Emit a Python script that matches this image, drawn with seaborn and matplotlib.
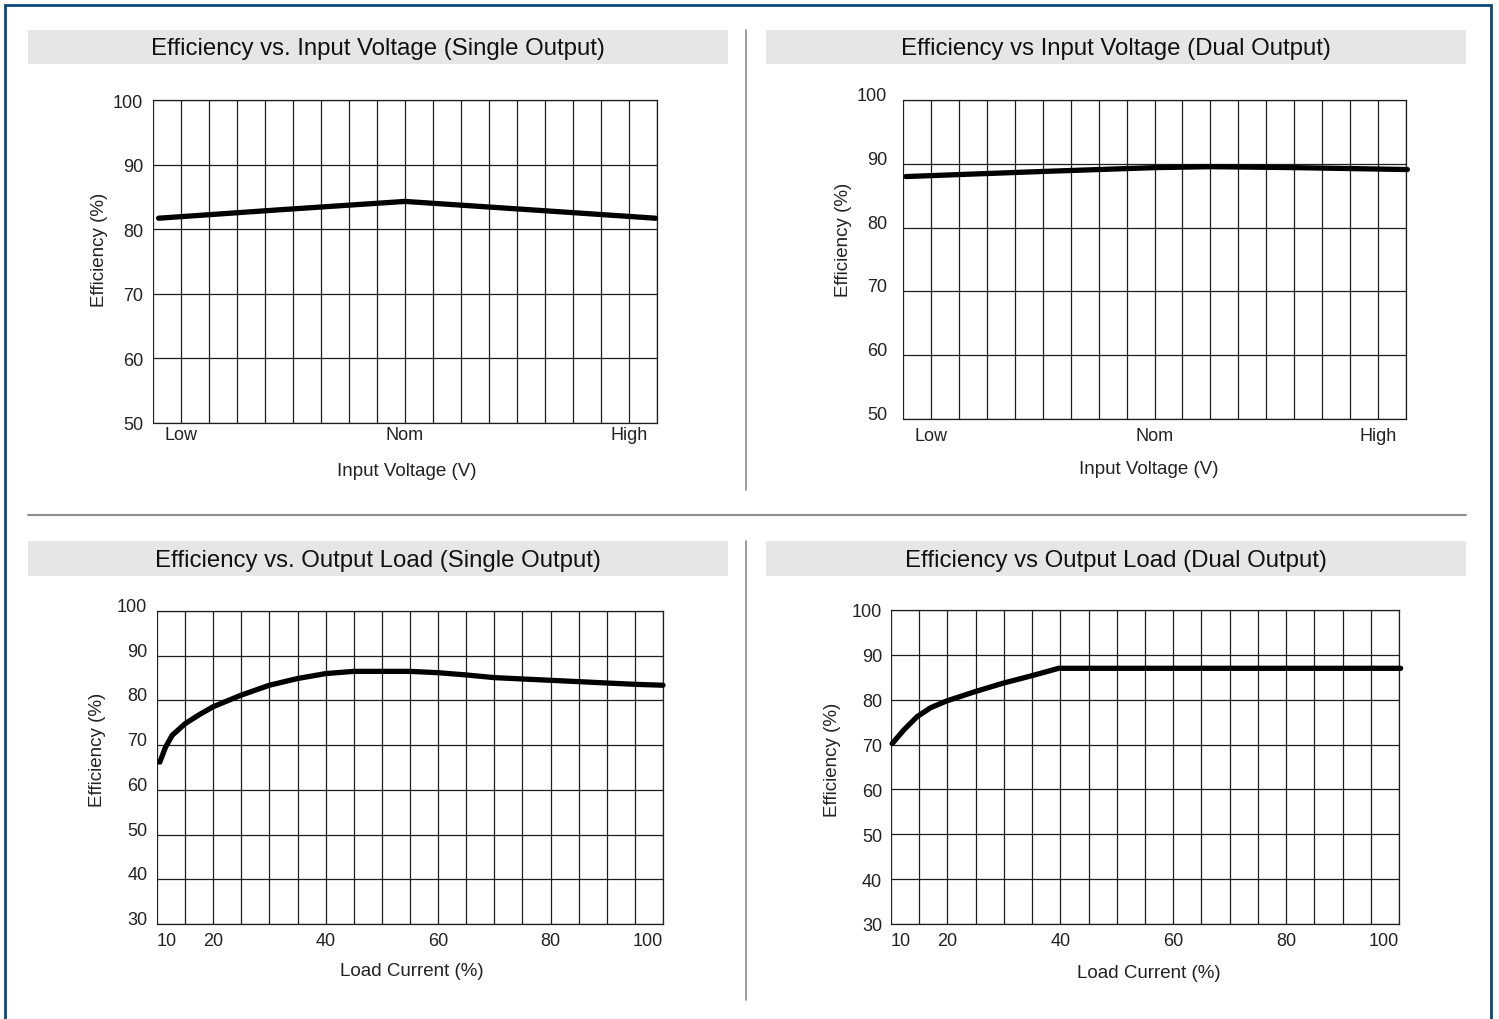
import numpy as np
import pandas as pd
import matplotlib
matplotlib.use('Agg')
import matplotlib.pyplot as plt
import seaborn as sns
from matplotlib.patches import Rectangle
from matplotlib.lines import Line2D
from matplotlib.ticker import MultipleLocator

# ---- data ----
vin_tick_pos = [1, 9, 17]
vin_tick_labels = ['Low', 'Nom', 'High']

vin_pos_single = [0.2, 4.5, 9.0, 13.5, 17.95]
eff_vin_single = [81.7, 83.0, 84.3, 83.0, 81.7]

vin_pos_dual = [0.1, 5.0, 9.0, 11.0, 14.0, 18.05]
eff_vin_dual = [88.0, 88.8, 89.4, 89.55, 89.4, 89.1]

load_ticks = [10, 20, 40, 60, 80, 100]

load_single = [10.5, 11.5, 12.7, 15, 17.5, 20, 25, 30, 35, 40, 45, 50, 55, 60, 65, 70, 75,
               80, 85, 90, 95, 100]
eff_load_single = [66.2, 69.5, 72.2, 74.8, 76.8, 78.6, 81.2, 83.4, 84.9, 86.0, 86.5, 86.5,
                   86.5, 86.2, 85.7, 85.1, 84.8, 84.5, 84.2, 83.9, 83.6, 83.4]

load_dual = [10.2, 12.3, 14.6, 17.0, 19.8, 24.9, 29.9, 34.8, 39.7, 60, 80, 100.3]
eff_load_dual = [70.2, 73.3, 76.2, 78.2, 79.7, 81.8, 83.7, 85.3, 87.0, 87.0, 87.0, 87.0]

titles = ['Efficiency vs. Input Voltage (Single Output)',
          'Efficiency vs Input Voltage (Dual Output)',
          'Efficiency vs. Output Load (Single Output)',
          'Efficiency vs Output Load (Dual Output)']

# ---- figure setup ----
sns.set_theme(style='white')
plt.rcParams['font.family'] = ['Liberation Sans', 'DejaVu Sans']

W, H = 1499, 1020
fig = plt.figure(figsize=(W / 100, H / 100), dpi=100)
fig.patch.set_facecolor('white')

grid_color = '#1e1e1e'
text_color = '#222222'


def fx(x):
    return x / W


def fy(y):
    return 1 - y / H


def add_px_axes(left, top, right, bottom):
    return fig.add_axes([fx(left), fy(bottom), (right - left) / W, (bottom - top) / H])


def to_axes(box, x, y):
    left, top, right, bottom = box
    return (x - left) / (right - left), (bottom - y) / (bottom - top)


def style_panel(ax, box, xlim, ylim, xstep, xticks, xticklabels, xlabel,
                xlabel_xy, ylabel_xy, xpad, ypad, yva):
    ax.set_xlim(*xlim)
    ax.set_ylim(*ylim)
    ax.xaxis.set_minor_locator(MultipleLocator(xstep))
    ax.set_xticks(xticks)
    ax.set_xticklabels(xticklabels)
    ax.set_yticks(np.arange(ylim[0], ylim[1] + 1, 10))
    ax.grid(False)
    ax.grid(True, which='both', axis='x', color=grid_color, lw=0.9)
    ax.grid(True, which='major', axis='y', color=grid_color, lw=0.9)
    ax.tick_params(axis='both', which='both', length=0, labelsize=13, colors=text_color)
    ax.tick_params(axis='x', pad=xpad)
    ax.tick_params(axis='y', pad=ypad)
    for lab in ax.get_yticklabels():
        lab.set_va(yva)
    ax.spines['left'].set_visible(False)
    for s in ['top', 'right', 'bottom']:
        ax.spines[s].set_color(grid_color)
        ax.spines[s].set_linewidth(0.9)
    ax.set_xlabel(xlabel, fontsize=13.5, color=text_color)
    ax.set_ylabel('Efficiency (%)', fontsize=13.5, color=text_color)
    ax.xaxis.set_label_coords(*to_axes(box, *xlabel_xy))
    ax.yaxis.set_label_coords(*to_axes(box, *ylabel_xy))
    ax.xaxis.label.set_va('center')
    ax.yaxis.label.set_va('center')
    ax.set_facecolor('white')


line_kw = dict(color='black', linewidth=3.8, clip_on=False, zorder=5)

# ---- top left ----
box_tl = (153, 101, 657, 424)
ax_tl = add_px_axes(*box_tl)
sns.lineplot(x=vin_pos_single, y=eff_vin_single, ax=ax_tl, **line_kw)
style_panel(ax_tl, box_tl, (0, 18), (50, 100), 1, vin_tick_pos, vin_tick_labels,
            'Input Voltage (V)', (407, 472), (100, 250), 2.5, 7, 'center_baseline')

# ---- top right ----
box_tr = (903, 101, 1406, 420)
ax_tr = add_px_axes(*box_tr)
sns.lineplot(x=vin_pos_dual, y=eff_vin_dual, ax=ax_tr, **line_kw)
style_panel(ax_tr, box_tr, (0, 18), (50, 100), 1, vin_tick_pos, vin_tick_labels,
            'Input Voltage (V)', (1149, 470), (843, 240), 5.5, 11.5, 'baseline')

# ---- bottom left ----
box_bl = (157, 612, 663, 925)
ax_bl = add_px_axes(*box_bl)
sns.lineplot(x=load_single, y=eff_load_single, ax=ax_bl, **line_kw)
style_panel(ax_bl, box_bl, (10, 100), (30, 100), 5, load_ticks, [str(v) for v in load_ticks],
            'Load Current (%)', (412, 972), (97, 750), 6, 7, 'baseline')

# ---- bottom right ----
box_br = (891, 611, 1399, 925)
ax_br = add_px_axes(*box_br)
sns.lineplot(x=load_dual, y=eff_load_dual, ax=ax_br, **line_kw)
style_panel(ax_br, box_br, (10, 100), (30, 100), 5, load_ticks, [str(v) for v in load_ticks],
            'Load Current (%)', (1149, 974), (832, 760), 6, 6.5, 'center_baseline')

for ax in (ax_bl, ax_br):
    labs = ax.get_xticklabels()
    labs[0].set_ha('left')
    labs[-1].set_ha('right')

# ---- title bars ----
bars = [(28, 31, 728, 65), (766, 31, 1466, 65), (28, 542, 728, 577), (766, 542, 1466, 577)]
for (x0, y0, x1, y1), title in zip(bars, titles):
    fig.patches.append(Rectangle((fx(x0), fy(y1)), (x1 - x0) / W, (y1 - y0) / H,
                                 transform=fig.transFigure, facecolor='#e6e6e6',
                                 edgecolor='none', zorder=0))
    fig.text(fx((x0 + x1) / 2), fy((y0 + y1) / 2 + 1), title, ha='center', va='center',
             fontsize=17.3, color='#111111')

# ---- separators ----
sep = '#8c8c8c'
fig.add_artist(Line2D([fx(746), fx(746)], [fy(31), fy(491)], color=sep, lw=1.2))
fig.add_artist(Line2D([fx(746), fx(746)], [fy(542), fy(1001)], color=sep, lw=1.2))
fig.add_artist(Line2D([fx(28), fx(1466)], [fy(516), fy(516)], color=sep, lw=1.5))

# ---- outer frame (open at the bottom) ----
frame = '#0a4a7f'
fig.add_artist(Line2D([fx(5), fx(5), fx(1491), fx(1491)], [fy(1025), fy(6), fy(6), fy(1025)],
                      color=frame, lw=2.0, solid_joinstyle='miter'))

fig.savefig('out.png', dpi=100)
